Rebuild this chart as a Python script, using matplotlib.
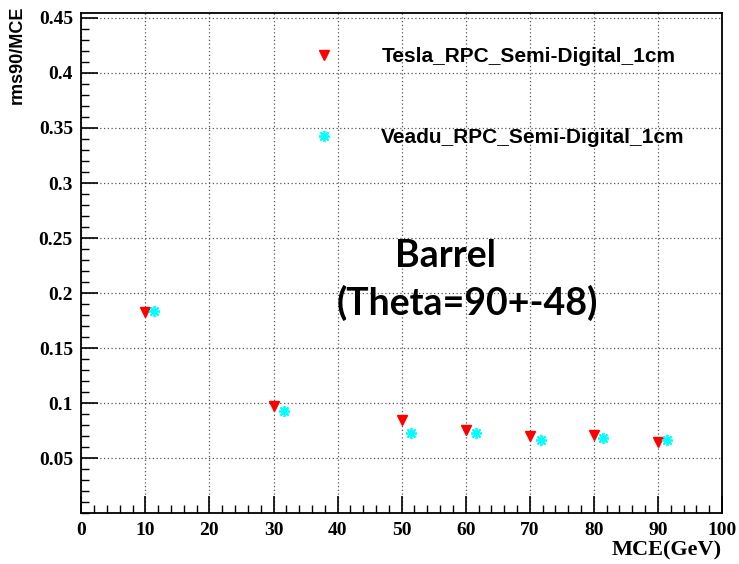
import numpy as np
import matplotlib
matplotlib.use("Agg")
import matplotlib.pyplot as plt
from matplotlib.ticker import MultipleLocator

# ============================================================
# Data
# ============================================================

tesla_x = [10, 30, 50, 60, 70, 80, 90]
tesla_y = [0.1825, 0.097, 0.0848, 0.0759, 0.0698, 0.0710, 0.0643]

veadu_x = [11.3, 31.7, 51.5, 61.6, 71.7, 81.4, 91.4]
veadu_y = [0.1834, 0.0927, 0.0726, 0.0726, 0.0668, 0.0680, 0.0662]

tesla_label = "Tesla_RPC_Semi-Digital_1cm"
veadu_label = "Veadu_RPC_Semi-Digital_1cm"

# ============================================================
# Plot
# ============================================================

fig = plt.figure(figsize=(7.39, 5.64), dpi=100)
ax = fig.add_axes([0.110, 0.090, 0.867, 0.887])

ax.plot(tesla_x, tesla_y, linestyle="none", marker="v", color="red",
        markersize=7, label=tesla_label)
ax.plot(veadu_x, veadu_y, linestyle="none", marker=(8, 2, 0), color="cyan",
        markersize=8, markeredgewidth=1.3, label=veadu_label)

ax.set_xlim(0, 100)
ax.set_ylim(0, 0.4545)

ax.xaxis.set_major_locator(MultipleLocator(10))
ax.xaxis.set_minor_locator(MultipleLocator(2))
ax.yaxis.set_major_locator(MultipleLocator(0.05))
ax.yaxis.set_minor_locator(MultipleLocator(0.01))

ax.tick_params(which="both", direction="in", top=False, right=False)
ax.tick_params(which="major", length=12, width=1.2, pad=6)
ax.tick_params(which="minor", length=6, width=1.0)

ax.set_xticks(np.arange(0, 101, 10))
ax.set_xticklabels([str(v) for v in range(0, 101, 10)])
yt = np.arange(0.05, 0.451, 0.05)
ax.set_yticks(yt)
ax.set_yticklabels(["%g" % round(v, 2) for v in yt])

for lbl in ax.get_xticklabels() + ax.get_yticklabels():
    lbl.set_family("Liberation Serif")
    lbl.set_fontweight("bold")
    lbl.set_fontsize(14)

ax.grid(True, which="major", linestyle=(0, (1, 2)), color="#555555", linewidth=0.9)

for s in ax.spines.values():
    s.set_linewidth(1.3)

ax.text(-0.1, 1.014, "rms90/MCE", transform=ax.transAxes, rotation=90,
        ha="center", va="top", family="Liberation Sans", fontsize=13,
        fontweight="bold")
ax.text(1.0, -0.074, "MCE(GeV)", transform=ax.transAxes, ha="right",
        va="center", family="Liberation Serif", fontsize=16, fontweight="bold")

ax.text(0.568, 0.514, "Barrel", transform=ax.transAxes, ha="center",
        va="center", family="Lato", fontsize=27, fontweight="bold")
ax.text(0.602, 0.42, "(Theta=90+-48)", transform=ax.transAxes, ha="center",
        va="center", family="Lato", fontsize=27, fontweight="bold")

ax.legend(loc="upper left", bbox_to_anchor=(0.330, 0.952), frameon=False,
          handletextpad=1.75, labelspacing=2.95, borderpad=0,
          prop={"family": "Liberation Sans", "weight": "bold", "size": 15})

fig.savefig("out.png", dpi=100)
